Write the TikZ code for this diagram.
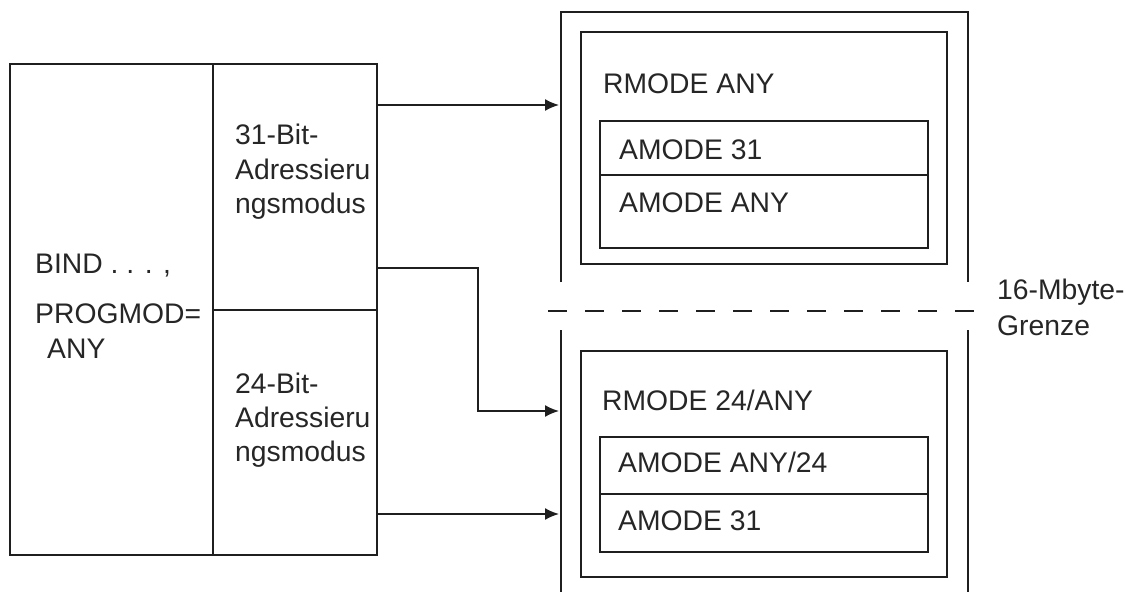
\documentclass[tikz,border=0pt]{standalone}
\usepackage{fontspec}
\setmainfont{Liberation Sans}
\usetikzlibrary{arrows.meta}
\begin{document}
\begin{tikzpicture}[x=1pt,y=-1pt,
  line/.style={line width=1.7pt,black!88},
  lbl/.style={anchor=base west,inner sep=0pt,font=\fontsize{28.3}{33}\selectfont,text=black!85},
  arr/.style={line,-{Latex[length=14pt,width=12pt]}},
  dashline/.style={line,dash pattern=on 19pt off 18pt}]
\useasboundingbox (0,0) rectangle (1126,592);
% left box
\draw[line] (10,64) rectangle (377,555);
\draw[line] (213,64) -- (213,555);
\draw[line] (213,310) -- (377,310);
\node[lbl] (b1) at (35,273) {BIND . . . ,};
\node[lbl] (b2) at (35,323) {PROGMOD=};
\node[lbl] (b3) at (47,358) {ANY};
\node[lbl] (t1) at (235,144) {31-Bit-};
\node[lbl] (t2) at (235,179) {Adressieru};
\node[lbl] (t3) at (235,213) {ngsmodus};
\node[lbl] (u1) at (235,393) {24-Bit-};
\node[lbl] (u2) at (235,427) {Adressieru};
\node[lbl] (u3) at (235,461) {ngsmodus};
% outer right frame
\draw[line] (561,282) -- (561,12) -- (968,12) -- (968,282);
\draw[line] (561,330) -- (561,592);
\draw[line] (968,330) -- (968,592);
\draw[dashline] (548,311) -- (978,311);
\node[lbl] (g1) at (997,299) {16-Mbyte-};
\node[lbl] (g2) at (997,335) {Grenze};
% upper region
\draw[line] (581,32) rectangle (947,264);
\node[lbl] (r1) at (603,93) {RMODE ANY};
\draw[line] (600,121) rectangle (928,248);
\draw[line] (600,175) -- (928,175);
\node[lbl] (a1) at (619,159) {AMODE 31};
\node[lbl] (a2) at (619,212) {AMODE ANY};
% lower region
\draw[line] (581,351) rectangle (947,577);
\node[lbl] (r2) at (602,410) {RMODE 24/ANY};
\draw[line] (600,437) rectangle (928,552);
\draw[line] (600,494) -- (928,494);
\node[lbl] (a3) at (618,472) {AMODE ANY/24};
\node[lbl] (a4) at (618,530) {AMODE 31};
% connectors
\coordinate (s1) at (377,105);
\coordinate (e1) at (559,105);
\coordinate (s2) at (377,268);
\coordinate (k2) at (478,268);
\coordinate (e2) at (559,411);
\coordinate (s3) at (377,514);
\coordinate (e3) at (559,514);
\draw[arr] (s1) -- (e1);
\draw[arr] (s2) -- (k2) |- (e2);
\draw[arr] (s3) -- (e3);
\end{tikzpicture}
\end{document}
